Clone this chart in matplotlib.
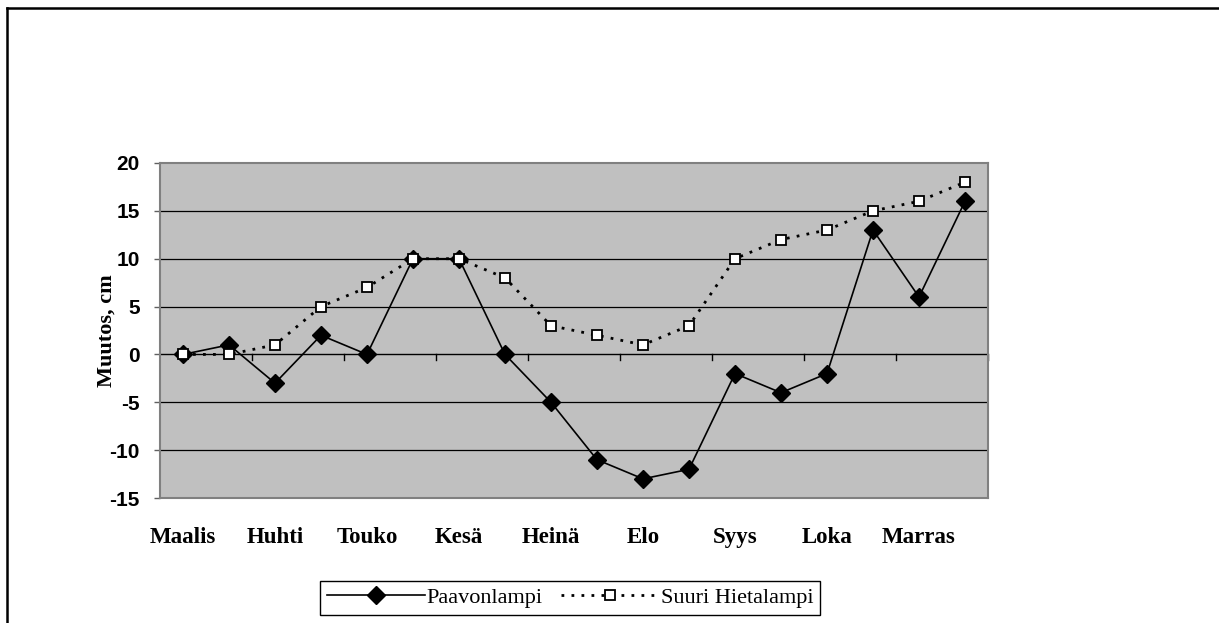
import numpy as np
import matplotlib
matplotlib.use('Agg')
import matplotlib.pyplot as plt
from matplotlib.lines import Line2D

# kuukaudet (joka toinen piste nimetty)
months = ['Maalis', 'Huhti', 'Touko', 'Kesä', 'Heinä', 'Elo', 'Syys', 'Loka', 'Marras']

# muutos, cm
paavonlampi = [0, 1, -3, 2, 0, 10, 10, 0, -5, -11, -13, -12, -2, -4, -2, 13, 6, 16]
suuri_hietalampi = [0, 0, 1, 5, 7, 10, 10, 8, 3, 2, 1, 3, 10, 12, 13, 15, 16, 18]

serif = ['Liberation Serif', 'DejaVu Serif']
sans = ['Liberation Sans', 'DejaVu Sans']

fig = plt.figure(figsize=(12.19, 6.23), dpi=100)
ax = fig.add_axes([160 / 1219, 125 / 623, 828 / 1219, 335 / 623])
ax.set_facecolor('#c0c0c0')

x = np.arange(len(paavonlampi))
ax.set_xlim(-0.5, len(x) - 0.5)
ax.set_ylim(-15, 20)

# vaakaviivat
for yv in [-10, -5, 5, 10, 15]:
    ax.axhline(yv, color='black', lw=0.9, zorder=1)
ax.axhline(0, color='black', lw=1.0, zorder=1)

# x-akselin jakoviivat nollatasolla
for xb in np.arange(1.5, len(x), 2):
    ax.plot([xb, xb], [0, -0.6], color='black', lw=1.0, zorder=1, clip_on=False)

ax.plot(x, paavonlampi, color='black', lw=1.2, marker='D', markersize=9.5,
        markerfacecolor='black', markeredgecolor='black', zorder=3, label='Paavonlampi')
ax.plot(x, suuri_hietalampi, color='black', lw=2.0, linestyle=(0, (1, 2.6)),
        marker='s', markersize=7, markerfacecolor='white', markeredgecolor='black',
        markeredgewidth=1.3, zorder=4, label='Suuri Hietalampi')

for s in ax.spines.values():
    s.set_color('#808080')
    s.set_linewidth(1.5)

ax.set_yticks(np.arange(-15, 21, 5))
ax.set_yticklabels([str(v) for v in range(-15, 21, 5)], fontfamily=sans,
                   fontweight='bold', fontsize=15)
ax.tick_params(axis='y', direction='out', length=4.5, width=1, color='#606060', pad=10)

ax.set_xticks(x[::2])
ax.set_xticklabels(months, fontfamily=serif, fontweight='bold', fontsize=16.5)
ax.tick_params(axis='x', length=0, pad=21)

ax.set_ylabel('Muutos, cm', fontfamily=serif, fontweight='bold', fontsize=16)
ax.yaxis.set_label_coords(-0.052, 0.5)

leg = fig.legend(loc='center', bbox_to_anchor=(570 / 1219, 1 - 598 / 623), ncol=2,
                 frameon=True, fancybox=False, edgecolor='black', framealpha=1,
                 prop={'family': serif, 'size': 16}, handlelength=4.4,
                 numpoints=1, columnspacing=0.8, handletextpad=0.1,
                 borderpad=0.3, borderaxespad=0)
leg.get_frame().set_linewidth(1.0)

# kehys
fig.add_artist(Line2D([7 / 1219, 1], [1 - 8 / 623, 1 - 8 / 623], color='black', lw=1.8))
fig.add_artist(Line2D([7 / 1219, 7 / 1219], [0, 1 - 8 / 623], color='black', lw=1.8))

fig.savefig('out.png', dpi=100)
